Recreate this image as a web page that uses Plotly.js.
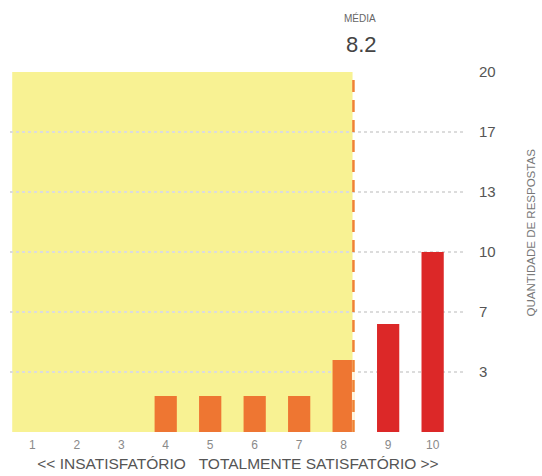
<!DOCTYPE html>
<html>
<head>
<meta charset="utf-8">
<script src="https://cdn.plot.ly/plotly-3.0.1.min.js"></script>
<style>html,body{margin:0;padding:0;background:#fff;}#chart{width:542px;height:476px;}</style>
</head>
<body>
<div id="chart"></div>
<script>
// Data
const scores = [1, 2, 3, 4, 5, 6, 7, 8, 9, 10];
const counts = [0, 0, 0, 2, 2, 2, 2, 4, 6, 10];
const barColors = ['#EE7632','#EE7632','#EE7632','#EE7632','#EE7632','#EE7632','#EE7632','#EE7632','#DC2828','#DC2828'];
const yTickVals = [3.333, 6.667, 10, 13.333, 16.667, 20];
const yTickText = ['3', '7', '10', '13', '17', '20'];
const xTitle = '&lt;&lt; INSATISFATÓRIO&nbsp;&nbsp;&nbsp;TOTALMENTE SATISFATÓRIO &gt;&gt;';
const yTitle = 'QUANTIDADE DE RESPOSTAS';
const meanLabel = 'MÉDIA';

let total = 0, sum = 0;
scores.forEach((s, i) => { total += counts[i]; sum += s * counts[i]; });
const mean = Math.round(sum / total * 10) / 10;

const font = 'Liberation Sans, Arial, sans-serif';

const trace = {
  type: 'bar',
  x: scores,
  y: counts,
  width: 0.5,
  marker: {color: barColors, line: {width: 0}},
  hoverinfo: 'skip'
};

const layout = {
  width: 542, height: 476,
  margin: {l: 10, r: 76, t: 72, b: 44},
  paper_bgcolor: '#ffffff',
  plot_bgcolor: '#ffffff',
  showlegend: false,
  font: {family: font, color: '#555'},
  xaxis: {
    range: [0.5, 10.75],
    tickvals: scores,
    ticktext: scores.map(String),
    tickfont: {size: 12, color: '#8a8a8a'},
    ticks: '',
    ticklabelstandoff: 4,
    showgrid: false,
    zeroline: false,
    showline: false,
    title: {text: xTitle, font: {size: 15.5, color: '#555'}, standoff: 7}
  },
  yaxis: {
    range: [0, 20],
    side: 'right',
    tickvals: yTickVals,
    ticktext: yTickText,
    tickfont: {size: 15, color: '#555'},
    ticks: '',
    ticklabelstandoff: 12,
    showgrid: true,
    gridcolor: '#dcdcdc',
    griddash: 'dot',
    gridwidth: 1.5,
    zeroline: false,
    showline: false
  },
  shapes: [
    {type: 'rect', xref: 'x', yref: 'y', x0: 0.55, x1: mean, y0: 0, y1: 20,
     fillcolor: '#F8F293', line: {width: 0}, layer: 'below'},
    {type: 'line', xref: 'x', yref: 'y', x0: mean + 0.02, x1: mean + 0.02, y0: 0, y1: counts[7],
     line: {color: '#fff6e0', width: 3}},
    {type: 'line', xref: 'x', yref: 'y', x0: mean + 0.02, x1: mean + 0.02, y0: 0, y1: 20,
     line: {color: '#EF8234', width: 2.5, dash: '12px,8px'}}
  ],
  annotations: [
    {xref: 'x', yref: 'paper', x: mean + 0.17, y: 1.15, yanchor: 'middle', xanchor: 'center',
     text: meanLabel, showarrow: false, font: {size: 10, color: '#666'}},
    {xref: 'x', yref: 'paper', x: mean + 0.2, y: 1.076, yanchor: 'middle', xanchor: 'center',
     text: mean.toFixed(1), showarrow: false, font: {size: 22, color: '#444'}},
    {xref: 'paper', yref: 'paper', x: 1.143, y: 0.555, xanchor: 'center', yanchor: 'middle',
     textangle: -90, text: yTitle, showarrow: false, font: {size: 11.5, color: '#777'}}
  ]
};

Plotly.newPlot('chart', [trace], layout, {displayModeBar: false, staticPlot: true});
</script>
</body>
</html>
